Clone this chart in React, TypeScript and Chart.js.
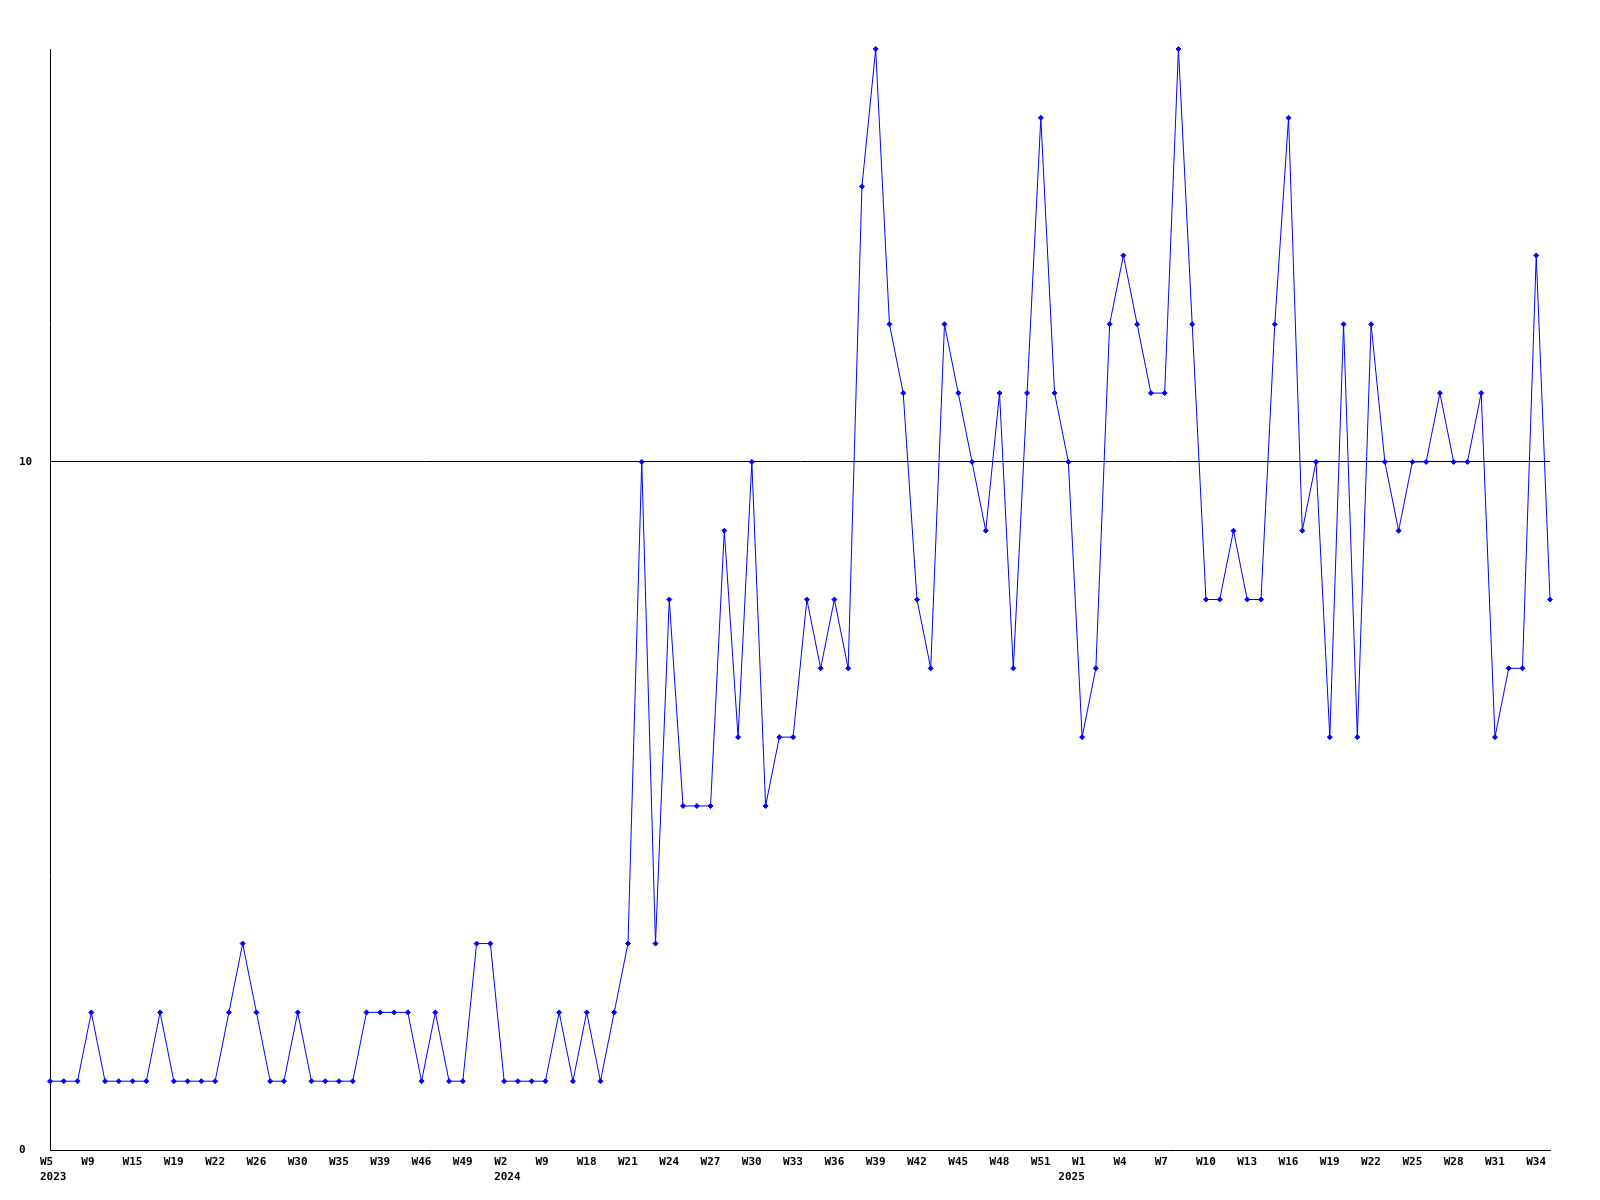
import { useEffect, useRef } from "react";
import { Chart, registerables } from "chart.js";

Chart.register(...registerables);

// Week categories (year-week), one per data point
const categories: string[] = [
  "2023-W5", "2023-W6", "2023-W8", "2023-W9", "2023-W11", "2023-W13", "2023-W15", "2023-W16", "2023-W17", "2023-W19",
  "2023-W20", "2023-W21", "2023-W22", "2023-W23", "2023-W24", "2023-W26", "2023-W27", "2023-W29", "2023-W30", "2023-W32",
  "2023-W33", "2023-W35", "2023-W36", "2023-W38", "2023-W39", "2023-W41", "2023-W43", "2023-W46", "2023-W47", "2023-W48",
  "2023-W49", "2023-W50", "2023-W52", "2024-W2", "2024-W5", "2024-W7", "2024-W9", "2024-W12", "2024-W15", "2024-W18",
  "2024-W19", "2024-W20", "2024-W21", "2024-W22", "2024-W23", "2024-W24", "2024-W25", "2024-W26", "2024-W27", "2024-W28",
  "2024-W29", "2024-W30", "2024-W31", "2024-W32", "2024-W33", "2024-W34", "2024-W35", "2024-W36", "2024-W37", "2024-W38",
  "2024-W39", "2024-W40", "2024-W41", "2024-W42", "2024-W43", "2024-W44", "2024-W45", "2024-W46", "2024-W47", "2024-W48",
  "2024-W49", "2024-W50", "2024-W51", "2024-W52", "2025-W0", "2025-W1", "2025-W2", "2025-W3", "2025-W4", "2025-W5",
  "2025-W6", "2025-W7", "2025-W8", "2025-W9", "2025-W10", "2025-W11", "2025-W12", "2025-W13", "2025-W14", "2025-W15",
  "2025-W16", "2025-W17", "2025-W18", "2025-W19", "2025-W20", "2025-W21", "2025-W22", "2025-W23", "2025-W24", "2025-W25",
  "2025-W26", "2025-W27", "2025-W28", "2025-W29", "2025-W30", "2025-W31", "2025-W32", "2025-W33", "2025-W34", "2025-W35",
];

// Weekly counts
const counts: number[] = [
  1, 1, 1, 2, 1, 1, 1, 1, 2, 1,
  1, 1, 1, 2, 3, 2, 1, 1, 2, 1,
  1, 1, 1, 2, 2, 2, 2, 1, 2, 1,
  1, 3, 3, 1, 1, 1, 1, 2, 1, 2,
  1, 2, 3, 10, 3, 8, 5, 5, 5, 9,
  6, 10, 5, 6, 6, 8, 7, 8, 7, 14,
  16, 12, 11, 8, 7, 12, 11, 10, 9, 11,
  7, 11, 15, 11, 10, 6, 7, 12, 13, 12,
  11, 11, 16, 12, 8, 8, 9, 8, 8, 12,
  15, 9, 10, 6, 12, 6, 12, 10, 9, 10,
  10, 11, 10, 10, 11, 6, 7, 7, 13, 8,
];

const yTickValues: number[] = [0, 10];
const yMin = 0;
const yMax = 16;
const weekLabelEvery = 3;

const FONT = { family: "'DejaVu Sans Mono', monospace", size: 11, weight: "bold" as const, lineHeight: 15 / 11 };

function tickLabel(i: number): string | string[] {
  const [year, week] = categories[i].split("-");
  const prevYear = i > 0 ? categories[i - 1].split("-")[0] : null;
  const showWeek = i % weekLabelEvery === 0;
  const showYear = year !== prevYear;
  if (showWeek && showYear) return [week, year];
  if (showYear) return ["", year];
  if (showWeek) return week;
  return "";
}

export default function App() {
  const ref = useRef<HTMLCanvasElement>(null);

  useEffect(() => {
    const prevMargin = document.body.style.margin;
    document.body.style.margin = "0";
    const chart = new Chart(ref.current as HTMLCanvasElement, {
      type: "line",
      data: {
        labels: categories,
        datasets: [
          {
            data: counts,
            borderColor: "#0000ff",
            borderWidth: 1,
            backgroundColor: "#0000ff",
            pointStyle: "rectRot",
            pointRadius: 2.5,
            pointBackgroundColor: "#0000ff",
            pointBorderColor: "#0000ff",
            pointBorderWidth: 1,
            tension: 0,
            fill: false,
            clip: false as any,
          },
        ],
      },
      options: {
        responsive: false,
        animation: false,
        devicePixelRatio: 1,
        layout: { padding: { left: 19, right: 50, top: 49, bottom: 0 } },
        plugins: { legend: { display: false }, tooltip: { enabled: false } },
        scales: {
          x: {
            type: "category",
            offset: false,
            grid: { display: false, drawTicks: false },
            border: { display: true, color: "#000000", width: 1 },
            ticks: {
              autoSkip: false,
              maxRotation: 0,
              minRotation: 0,
              align: "start",
              labelOffset: -10,
              padding: 5,
              color: "#000000",
              font: FONT,
              callback: (_v: any, i: number) => tickLabel(i),
            },
            afterFit: (s: any) => {
              s.height = 50;
            },
          },
          y: {
            min: yMin,
            max: yMax,
            afterBuildTicks: (s: any) => {
              s.ticks = yTickValues.map((v) => ({ value: v }));
            },
            grid: {
              drawTicks: false,
              lineWidth: 1,
              color: (c: any) => (c.tick && c.tick.value === 10 ? "#000000" : "rgba(0,0,0,0)"),
            },
            border: { display: true, color: "#000000", width: 1 },
            ticks: {
              crossAlign: "far",
              padding: 17,
              color: "#000000",
              font: FONT,
            },
            afterFit: (s: any) => {
              s.width = 31;
            },
          },
        },
      },
    });
    return () => {
      chart.destroy();
      document.body.style.margin = prevMargin;
    };
  }, []);

  return <canvas ref={ref} width={1600} height={1200} style={{ display: "block" }} />;
}
